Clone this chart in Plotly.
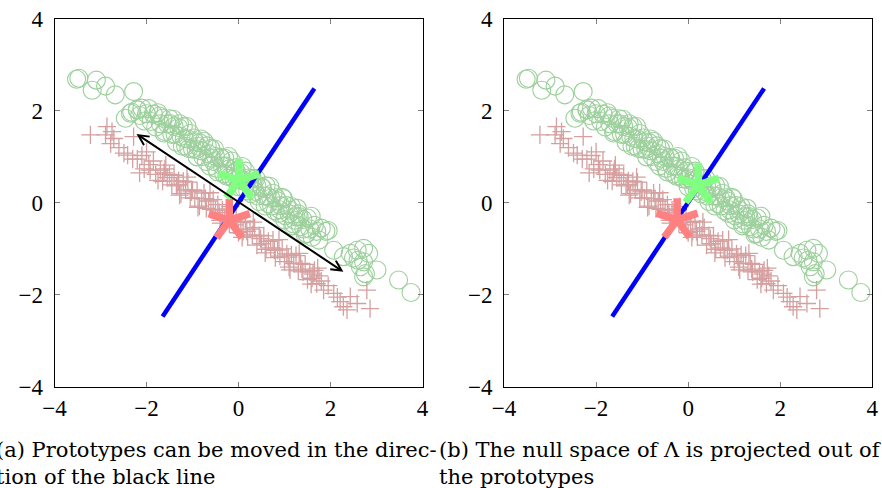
import plotly.graph_objects as go
import math

# ---------------- data ----------------
green_x = [-3.47, -3.52, -3.09, -3.18, -2.89, -2.68, -2.28, -2.46, -2.20, -2.35,
           -2.20, -2.15, -2.10, -2.05, -2.00, -1.95, -1.90, -1.85, -1.80, -1.75,
           -1.70, -1.65, -1.60, -1.55, -1.50, -1.45, -1.40, -1.35, -1.30, -1.25,
           -1.20, -1.15, -1.10, -1.05, -1.00, -0.95, -0.90, -0.85, -0.80, -0.75,
           -0.70, -0.65, -0.60, -0.55, -0.50, -0.45, -0.40, -0.35, -0.30, -0.25,
           -0.20, -0.15, -0.10, -0.05, 0.00, 0.05, 0.10, 0.15, 0.20, 0.25,
           0.30, 0.35, 0.40, 0.45, 0.50, 0.55, 0.60, 0.65, 0.70, 0.75,
           0.80, 0.85, 0.90, 0.95, 1.00, 1.05, 1.10, 1.15, 1.20, 1.25,
           1.30, 1.35, 1.40, 1.45, 1.50, 1.55, 1.60, 1.65, 1.70, 1.80, 1.90,
           -1.48, -1.38, -1.28, -1.18, -1.08, -0.98, -0.88, -0.78, -0.68, -0.58,
           -0.48, -0.38, -0.28, -0.18, -0.08, 0.02, 0.12, 0.22, 0.32, 0.42,
           0.52, 0.62, 0.72, 0.82, 0.92, 1.02, 1.12, 1.22, 1.32, 1.42,
           -2.32, -1.72, -1.62, -1.42, -1.22, -1.12, -0.92, -0.82, -0.62, -0.52,
           -0.32, -0.22, -0.02, 0.08, 0.28, 0.38, 0.58, 0.68, 0.88, 0.98,
           1.18, 1.28, 1.48, 1.58, 1.75, 1.95,
           2.07, 2.28, 2.43, 2.58, 2.72, 2.83, 2.72, 2.65, 3.01, 2.72,
           2.76, 2.50, 2.60, 3.48, 3.75]
green_y = [2.71, 2.69, 2.67, 2.45, 2.54, 2.35, 2.42, 1.84, 2.02, 1.95,
           2.03, 1.90, 2.06, 1.78, 1.94, 2.05, 1.77, 1.93, 1.65, 1.96,
           1.72, 1.84, 1.55, 1.72, 1.83, 1.49, 1.66, 1.32, 1.64, 1.45,
           1.66, 1.23, 1.39, 1.51, 1.17, 1.33, 1.00, 1.31, 1.13, 1.34,
           0.90, 1.07, 1.18, 0.90, 1.01, 0.67, 0.99, 0.80, 0.97, 0.58,
           0.74, 0.91, 0.52, 0.69, 0.35, 0.66, 0.48, 0.69, 0.26, 0.42,
           0.53, 0.25, 0.36, 0.03, 0.34, 0.15, 0.37, -0.02, 0.10, 0.21,
           -0.18, 0.04, -0.15, 0.12, -0.37, -0.06, -0.24, -0.08, -0.46, -0.30,
           -0.24, -0.52, -0.36, -0.69, -0.33, -0.57, -0.75, -0.49, -0.62, -0.55, -0.62,
           1.72, 1.49, 1.72, 1.40, 1.18, 1.41, 1.23, 1.01, 1.24, 0.97,
           0.75, 0.97, 0.80, 0.58, 0.76, 0.54, 0.31, 0.54, 0.37, 0.15,
           0.33, 0.15, -0.07, 0.11, -0.06, -0.28, -0.16, -0.38, -0.30, -0.57,
           1.97, 1.89, 1.52, 1.82, 1.23, 1.66, 1.16, 1.39, 0.80, 1.17,
           0.63, 1.01, 0.51, 0.79, 0.20, 0.53, -0.07, 0.36, -0.23, 0.09,
           -0.50, -0.12, -0.67, -0.29, -0.81, -0.60,
           -1.03, -1.17, -1.10, -1.03, -0.99, -1.10, -1.28, -1.39, -1.46, -1.61,
           -1.54, -1.20, -1.25, -1.68, -1.95]

red_x = [-3.22, -2.86, -2.89, -2.71, -2.78, -2.49, -2.28, -2.75, -2.60, -2.41, -2.15, -2.30,
         -2.20, -2.10, -2.05, -1.95, -1.85, -1.80, -1.70, -1.65, -1.60, -1.55,
         -1.50, -1.45, -1.40, -1.35, -1.30, -1.25, -1.20, -1.15, -1.10, -1.05,
         -1.00, -0.95, -0.90, -0.85, -0.80, -0.75, -0.70, -0.65, -0.60, -0.55,
         -0.50, -0.45, -0.40, -0.35, -0.30, -0.25, -0.20, -0.15, -0.10, -0.05,
         0.00, 0.05, 0.10, 0.15, 0.20, 0.25, 0.30, 0.35, 0.40, 0.45,
         0.50, 0.55, 0.60, 0.65, 0.70, 0.75, 0.80, 0.85, 0.90, 0.95,
         1.00, 1.05, 1.10, 1.15, 1.20, 1.25, 1.30, 1.35, 1.40, 1.45,
         1.50, 1.55, 1.60, 1.65, 1.70, 1.75,
         -1.92, -1.62, -1.32, -1.02, -0.72, -0.42, -0.12, 0.18, 0.48, 0.78, 1.08, 1.38, 1.62,
         -2.00, -1.75, -1.58, -1.28, -1.12, -0.88, -0.62, -0.38, -0.18, 0.08, 0.32, 0.58,
         0.88, 1.12, 1.32, 1.58, 1.72,
         1.85, 2.07, 2.21, 2.28, 2.43, 2.79, 2.86, 2.58, 2.36, 2.15, 1.95, 1.80]
red_y = [1.48, 1.66, 1.48, 1.40, 1.29, 1.08, 1.44, 1.55, 1.20, 1.04, 0.65, 0.95,
         0.95, 1.03, 0.74, 0.83, 0.91, 0.62, 0.71, 0.47, 0.74, 0.55,
         0.62, 0.39, 0.60, 0.37, 0.48, 0.20, 0.47, 0.28, 0.45, 0.11,
         0.28, 0.10, 0.26, -0.07, 0.09, 0.21, -0.12, 0.04, -0.14, 0.07,
         -0.16, -0.04, -0.38, -0.16, -0.35, -0.13, -0.46, -0.30, -0.48, -0.32,
         -0.65, -0.43, -0.62, -0.40, -0.74, -0.57, -0.70, -0.54, -0.92, -0.71,
         -0.89, -0.72, -1.01, -0.84, -0.98, -0.81, -1.19, -1.03, -1.16, -1.00,
         -1.28, -1.11, -1.40, -1.13, -1.32, -1.15, -1.48, -1.32, -1.50, -1.34,
         -1.67, -1.50, -1.64, -1.47, -1.76, -1.59,
         0.71, 0.65, 0.40, 0.24, 0.09, -0.21, -0.37, -0.62, -0.78, -1.03, -1.18, -1.44, -1.55,
         1.11, 0.49, 0.82, 0.17, 0.56, -0.10, 0.22, -0.44, -0.08, -0.75, -0.42, -1.09,
         -0.80, -1.46, -1.10, -1.77, -1.42,
         -1.90, -1.97, -2.15, -2.26, -2.04, -1.90, -2.30, -2.19, -2.33, -2.05, -1.80, -1.70]

# prototypes (stars): [left panel, right panel]
green_proto_x = [0.01, 0.22]
green_proto_y = [0.49, 0.39]
red_proto_x = [-0.20, -0.24]
red_proto_y = [-0.38, -0.37]

# blue direction line (same in both panels)
blue_x = [-1.65, 1.65]
blue_y = [-2.47, 2.49]
blue_dot_x = [0.05, -0.08]
blue_dot_y = [0.08, -0.12]

# black double arrow (left panel)
arrow_start = (-2.25, 1.52)
arrow_end = (2.28, -1.50)

tick_vals = [-4, -2, 0, 2, 4]
captions = [
    "(a) Prototypes can be moved in the direc-<br>tion of the black line",
    "(b) The null space of Λ is projected out of<br>the prototypes",
]

# ---------------- figure ----------------
W, H = 882, 488
fig = go.Figure()

GREEN_C = "rgb(140,200,140)"
RED_C = "rgb(200,128,128)"
STAR_G = "rgb(128,255,128)"
STAR_R = "rgb(255,128,128)"
ARM = 0.47


def star_xy(cx, cy):
    xs, ys = [], []
    for k in range(5):
        a = math.radians(90 + 72 * k)
        xs += [cx, cx + ARM * math.cos(a), None]
        ys += [cy, cy + ARM * math.sin(a), None]
    return xs, ys


for i, (xa, ya) in enumerate([("x", "y"), ("x2", "y2")]):
    fig.add_trace(go.Scatter(x=red_x, y=red_y, mode="markers", xaxis=xa, yaxis=ya,
                             marker=dict(symbol="cross-thin-open", size=13, color=RED_C,
                                         line=dict(width=1.3, color=RED_C)),
                             opacity=0.75, showlegend=False))
    fig.add_trace(go.Scatter(x=green_x, y=green_y, mode="markers", xaxis=xa, yaxis=ya,
                             marker=dict(symbol="circle-open", size=18, color=GREEN_C,
                                         line=dict(width=1.1, color=GREEN_C)),
                             opacity=0.85, showlegend=False))
    fig.add_trace(go.Scatter(x=blue_x, y=blue_y, mode="lines", xaxis=xa, yaxis=ya,
                             line=dict(color="#0000ff", width=4.5), showlegend=False))
    fig.add_trace(go.Scatter(x=[blue_dot_x[i]], y=[blue_dot_y[i]], mode="markers", xaxis=xa, yaxis=ya,
                             marker=dict(color="#0000ff", size=5), showlegend=False))
    sx, sy = star_xy(red_proto_x[i], red_proto_y[i])
    fig.add_trace(go.Scatter(x=sx, y=sy, mode="lines", xaxis=xa, yaxis=ya,
                             line=dict(color=STAR_R, width=7.5), showlegend=False))
    sx, sy = star_xy(green_proto_x[i], green_proto_y[i])
    fig.add_trace(go.Scatter(x=sx, y=sy, mode="lines", xaxis=xa, yaxis=ya,
                             line=dict(color=STAR_G, width=7.5), showlegend=False))

FONT = "Liberation Serif, Times New Roman, serif"
CAP_FONT = "DejaVu Serif, serif"
axis_common = dict(range=[-4, 4], tickvals=tick_vals, ticks="inside", ticklen=5,
                   tickcolor="#808080", tickwidth=1, showline=True, linecolor="black",
                   linewidth=1, mirror="ticks", showgrid=False, zeroline=False,
                   tickfont=dict(family=FONT, size=23, color="black"))

top, bottom = 19, 386.7
ydom = [1 - bottom / H, 1 - top / H]
fig.update_layout(
    width=W, height=H, margin=dict(l=0, r=0, t=0, b=0, autoexpand=False),
    paper_bgcolor="white", plot_bgcolor="white",
    xaxis=dict(domain=[54.5 / W, 422.5 / W], anchor="y", ticklabelstandoff=1, **axis_common),
    yaxis=dict(domain=ydom, anchor="x", ticklabelstandoff=6, **axis_common),
    xaxis2=dict(domain=[504 / W, 872.3 / W], anchor="y2", ticklabelstandoff=1, **axis_common),
    yaxis2=dict(domain=ydom, anchor="x2", ticklabelstandoff=6, **axis_common),
)

fig.add_annotation(x=arrow_end[0], y=arrow_end[1], ax=arrow_start[0], ay=arrow_start[1],
                   xref="x", yref="y", axref="x", ayref="y", text="", showarrow=True,
                   arrowside="end+start", arrowhead=5, startarrowhead=5,
                   arrowsize=1, startarrowsize=1, arrowwidth=2, arrowcolor="black",
                   standoff=0, startstandoff=0)

cap_x = [-6, 437]
for i, txt in enumerate(captions):
    fig.add_annotation(x=cap_x[i] / W, y=1 - 463 / H, xref="paper", yref="paper",
                       text=txt, showarrow=False, xanchor="left", yanchor="middle",
                       align="left", font=dict(family=CAP_FONT, size=21, color="black"))

fig.write_html("out.html")
